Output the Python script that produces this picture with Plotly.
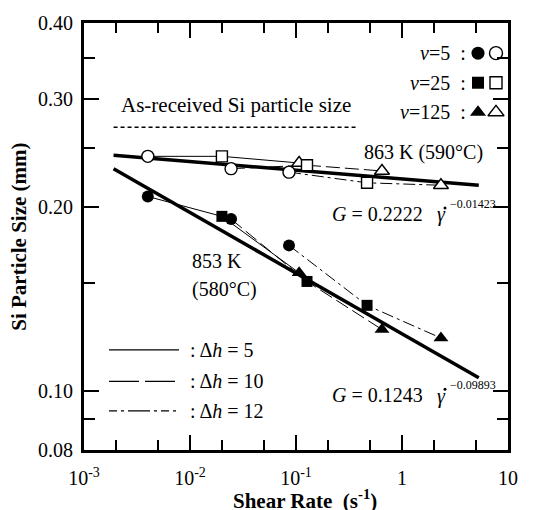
import plotly.graph_objects as go

# ---------------- data ----------------
x_ticks = [1e-3, 1e-2, 1e-1, 1, 10]
x_ticktext = ["10<sup>-3</sup>", "10<sup>-2</sup>", "10<sup>-1</sup>", "1", "10"]
x_minor = [2e-3, 5e-3, 2e-2, 5e-2, 0.2, 0.5, 2, 5]
y_ticks = [0.08, 0.10, 0.20, 0.30, 0.40]
y_ticktext = ["0.08", "0.10", "0.20", "0.30", "0.40"]
y_minor = [0.09, 0.15, 0.25, 0.35]

# shear rates for v = 5, 25, 125 at each delta-h
rate_dh5 = [0.0040, 0.0200, 0.107]
rate_dh10 = [0.0244, 0.127, 0.647]
rate_dh12 = [0.0859, 0.468, 2.33]

# 863 K (open markers)
g863_dh5 = [0.242, 0.242, 0.236]
g863_dh10 = [0.231, 0.234, 0.229]
g863_dh12 = [0.228, 0.219, 0.217]

# 853 K (filled markers)
g853_dh5 = [0.208, 0.193, 0.156]
g853_dh10 = [0.191, 0.151, 0.126]
g853_dh12 = [0.173, 0.138, 0.122]

# fitted power-law lines (end points)
fit_rate = [0.0019, 5.3]
fit863 = [0.243, 0.217]
fit853 = [0.231, 0.105]

# as-received size
asrec_rate = [0.0019, 0.38]
asrec_g = [0.270, 0.270]

symbols = ["circle", "square", "triangle-up"]
sizes = [12, 11, 13]

FONT = "Liberation Serif, Times New Roman, serif"
fig = go.Figure()

# fit lines
for yy in (fit863, fit853):
    fig.add_trace(go.Scatter(x=fit_rate, y=yy, mode="lines",
                             line=dict(color="#000000", width=3.5)))
# as-received dotted line
fig.add_trace(go.Scatter(x=asrec_rate, y=asrec_g, mode="lines",
                         line=dict(color="#000000", width=1.5, dash="4px,3px")))

dashes = ["solid", "14px,5px", "12px,4px,3px,4px"]
groups = [
    (rate_dh5, g863_dh5, g853_dh5, dashes[0]),
    (rate_dh10, g863_dh10, g853_dh10, dashes[1]),
    (rate_dh12, g863_dh12, g853_dh12, dashes[2]),
]
# connecting lines
for rate, g863, g853, dash in groups:
    for g in (g853, g863):
        fig.add_trace(go.Scatter(x=rate, y=g, mode="lines",
                                 line=dict(color="#000000", width=1, dash=dash)))
# markers
for rate, g863, g853, dash in groups:
    for j in range(3):
        fig.add_trace(go.Scatter(x=[rate[j]], y=[g853[j]], mode="markers",
                                 marker=dict(symbol=symbols[j], size=sizes[j], color="#000000",
                                             opacity=1)))
        fig.add_trace(go.Scatter(x=[rate[j]], y=[g863[j]], mode="markers",
                                 marker=dict(symbol=symbols[j], size=sizes[j], color="#ffffff",
                                             opacity=1, line=dict(color="#000000", width=1.4))))

# ---------- overlay axis in pixel-like units for legend marks / labels ----------
L, R, T, B = 84, 508, 16.4, 449.6
def px(x):
    return (x - L) / (R - L)
def py(y):
    return (B - y) / (B - T)

leg_rows = [47, 77, 107]
for i, yy in enumerate(leg_rows):
    fig.add_trace(go.Scatter(x=[px(478)], y=[py(yy)], mode="markers", xaxis="x2", yaxis="y2",
                             marker=dict(symbol=symbols[i], size=sizes[i] + 1, color="#000000")))
    fig.add_trace(go.Scatter(x=[px(496)], y=[py(yy)], mode="markers", xaxis="x2", yaxis="y2",
                             marker=dict(symbol=symbols[i], size=sizes[i] + 1, color="#ffffff",
                                         line=dict(color="#000000", width=1.4))))
# dots over gamma
fig.add_trace(go.Scatter(x=[px(445), px(445)], y=[py(204), py(388)], mode="markers",
                         xaxis="x2", yaxis="y2", marker=dict(size=3, color="#000000")))

fig.update_layout(
    width=533, height=510,
    margin=dict(l=L, r=533 - R, t=T, b=510 - B),
    paper_bgcolor="white", plot_bgcolor="white",
    showlegend=False, hovermode=False,
    font=dict(family=FONT, size=20, color="black"),
    xaxis=dict(type="log", range=[-3, 1], tickmode="array", tickvals=x_ticks, ticktext=x_ticktext,
               ticks="inside", ticklen=15, tickwidth=2, tickcolor="black",
               showline=True, linewidth=3, linecolor="black", mirror="allticks",
               showgrid=False, zeroline=False, ticklabelstandoff=8,
               minor=dict(tickmode="array", tickvals=x_minor, ticks="inside", ticklen=10,
                          tickwidth=2, tickcolor="black", showgrid=False)),
    yaxis=dict(type="log", range=[-1.09691, -0.39794], tickmode="array", tickvals=y_ticks,
               ticktext=y_ticktext,
               ticks="inside", ticklen=15, tickwidth=2, tickcolor="black",
               showline=True, linewidth=3, linecolor="black", mirror="allticks",
               showgrid=False, zeroline=False, ticklabelstandoff=4,
               minor=dict(tickmode="array", tickvals=y_minor, ticks="inside", ticklen=11,
                          tickwidth=2, tickcolor="black", showgrid=False)),
    xaxis2=dict(overlaying="x", range=[0, 1], visible=False),
    yaxis2=dict(overlaying="y", range=[0, 1], visible=False),
)

ann = []
def text(x, y, s, size=20, xanchor="center", **kw):
    ann.append(dict(xref="x2", yref="y2", x=px(x), y=py(y), text=s, showarrow=False,
                    xanchor=xanchor, yanchor="middle", font=dict(family=FONT, size=size, color="black"), **kw))

text(236, 100, "As-received Si particle size", size=21)
text(468, 47, "<i>v</i>=5  :", xanchor="right")
text(468, 77, "<i>v</i>=25  :", xanchor="right")
text(468, 107, "<i>v</i>=125  :", xanchor="right")
text(362, 148, "863 K (590°C)", xanchor="left")
# formula 863 K
text(425, 210, "<i>G</i> = 0.2222", xanchor="right")
text(441, 211, "<i>γ</i>")
text(448, 200, "−0.01423", size=12, xanchor="left")
# formula 853 K
text(425, 394, "<i>G</i> = 0.1243", xanchor="right")
text(441, 395, "<i>γ</i>")
text(448, 384, "−0.09893", size=12, xanchor="left")
text(190, 258, "853 K", xanchor="left")
text(190, 287, "(580°C)", xanchor="left")
text(188, 348, ": Δ<i>h</i> = 5", xanchor="left")
text(188, 380, ": Δ<i>h</i> = 10", xanchor="left")
text(188, 410, ": Δ<i>h</i> = 12", xanchor="left")
# axis titles
ann.append(dict(xref="paper", yref="paper", x=px(305), y=-0.115, text="<b>Shear Rate  (s<sup>-1</sup>)</b>",
                showarrow=False, xanchor="center", yanchor="middle", font=dict(family=FONT, size=21)))
ann.append(dict(xref="paper", yref="paper", x=-0.155, y=0.5, text="<b>Si Particle Size (mm)</b>",
                textangle=-90, showarrow=False, xanchor="center", yanchor="middle",
                font=dict(family=FONT, size=21)))
fig.update_layout(annotations=ann)

# legend lines for delta-h
for yy, d in zip([348, 380, 410], ["solid", "30px,6px", "8px,4px,3px,4px,22px,4px,3px,4px"]):
    fig.add_shape(type="line", xref="x2", yref="y2", x0=px(109), x1=px(179), y0=py(yy), y1=py(yy),
                  line=dict(color="black", width=1.3, dash=d))

fig.write_html("out.html", config={"displayModeBar": False},
               post_script="document.body.style.margin='0';")
